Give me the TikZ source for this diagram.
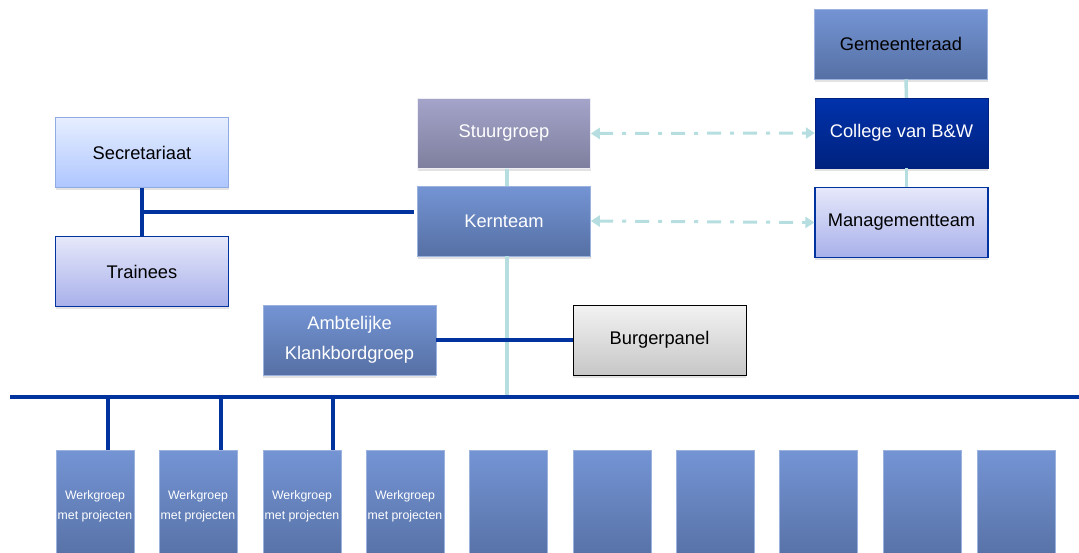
\documentclass[tikz,border=0pt]{standalone}
\usepackage{fontspec}
\setmainfont{Liberation Sans}
\usepackage{tikz}
\usetikzlibrary{arrows.meta, positioning, shadows}

\definecolor{unitTop}{HTML}{7494D4}
\definecolor{unitBot}{HTML}{5670A4}
\definecolor{unitEdge}{HTML}{9CB2DE}
\definecolor{stuurTop}{HTML}{A4A4CA}
\definecolor{stuurBot}{HTML}{7E7E9E}
\definecolor{collTop}{HTML}{0032AC}
\definecolor{collBot}{HTML}{00227E}
\definecolor{paleTop}{HTML}{E6E8FA}
\definecolor{paleBot}{HTML}{A8B0EA}
\definecolor{secrTop}{HTML}{E6EEFF}
\definecolor{secrBot}{HTML}{AEC6FF}
\definecolor{secrEdge}{HTML}{90AAE2}
\definecolor{darkline}{HTML}{00339E}
\definecolor{lightline}{HTML}{B6DEE0}

\begin{document}
\begin{tikzpicture}[
  x=1pt, y=-1pt,
  unit/.style={minimum width=173pt, minimum height=70pt, inner sep=0pt,
               align=center, font=\fontsize{18.3}{30}\selectfont,
               drop shadow={shadow xshift=0pt, shadow yshift=-2.5pt, fill=black!22}},
  blueunit/.style={unit, top color=unitTop, bottom color=unitBot,
                   draw=unitEdge, line width=0.6pt},
  paleunit/.style={unit, top color=paleTop, bottom color=paleBot,
                   draw=darkline, line width=1.1pt},
  workgroup/.style={blueunit, minimum width=78pt, minimum height=112pt,
                    font=\fontsize{12.3}{20}\selectfont, text=white,
                    drop shadow={opacity=0}},
  bus/.style={darkline, line width=3.5pt},
  link/.style={lightline, line width=3.5pt},
  dualarr/.style={lightline, line width=3pt,
                  dash pattern=on 14pt off 9pt on 4pt off 9pt,
                  {Triangle[length=9pt,width=11pt]}-{Triangle[length=9pt,width=11pt]}},
]
\useasboundingbox (0,0) rectangle (1079,552);
\clip (0,0) rectangle (1079,552);

% top row
\node[blueunit]  (gem)   at (901,44)    {Gemeenteraad};
\node[unit, top color=collTop, bottom color=collBot, draw=collBot,
      text=white]  (coll)  at (901.5,133) {College van B\&W};
\node[paleunit]  (mgmt)  at (901.5,222.5) {Managementteam};
\node[unit, top color=stuurTop, bottom color=stuurBot, draw=white!80!stuurTop,
      line width=0.6pt, text=white] (stuur) at (504,133.5) {Stuurgroep};
\node[blueunit, text=white] (kern)  at (504,221) {Kernteam};

% left side
\node[unit, top color=secrTop, bottom color=secrBot, draw=secrEdge,
      line width=0.8pt] (secr)  at (142,152.5) {Secretariaat};
\node[paleunit]  (train) at (142,271.5) {Trainees};

% advisory groups
\node[blueunit, text=white] (ambt) at (349.5,340) {Ambtelijke\\Klankbordgroep};
\node[unit, top color=black!5, bottom color=black!22, draw=black,
      line width=0.8pt] (burg) at (659.5,340) {Burgerpanel};

% work groups (cut off by the lower edge)
\foreach \cx [count=\i] in {95,198,302,405}
  \node[workgroup] (w\i) at (\cx,506) {Werkgroep\\met projecten};
\foreach \cx [count=\i from 5] in {508.5,612,715.5,818.5,922.5,1016.5}
  \node[workgroup] (w\i) at (\cx,506) {};

\coordinate (busL) at (10,397);
\coordinate (busR) at (1079,397);
\coordinate (sj)   at (142,212);

% connectors
\draw[link] ([xshift=5pt]gem.south) -- ([xshift=5pt]coll.north);
\draw[link] ([xshift=5pt]coll.south) -- ([xshift=5pt]mgmt.north);
\draw[link] ([xshift=3pt]stuur.south) -- ([xshift=3pt]kern.north);
\draw[link] ([xshift=3pt]kern.south) -- ([xshift=3pt]kern.south |- busL);

\draw[dualarr] (stuur.east) -- (coll.west);
\draw[dualarr] (kern.east)  -- (mgmt.west);

\draw[bus] (secr.south) -- (train.north);
\draw[bus] (sj) -- ([xshift=-3pt]kern.west |- sj);
\draw[bus] (ambt.east) -- (burg.west);
\draw[bus] (busL) -- (busR);
\foreach \i/\dx in {1/13,2/23,3/31}
  \draw[bus] ([xshift=\dx pt]w\i.north) -- ([xshift=\dx pt]w\i.north |- busL);
\end{tikzpicture}
\end{document}
